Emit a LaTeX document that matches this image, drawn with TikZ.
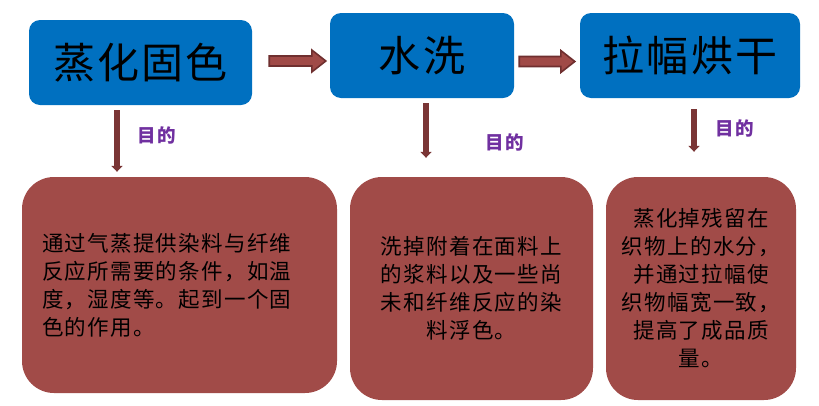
\documentclass[tikz,border=0pt]{standalone}
\usepackage{fontspec}
\newfontfamily\cjk{Noto Sans CJK SC}[LetterSpace=6]
\newfontfamily\cjkbig{Noto Sans CJK SC}[LetterSpace=5]
\usetikzlibrary{calc,arrows.meta}
\definecolor{boxblue}{HTML}{0070C0}
\definecolor{boxred}{HTML}{A14B48}
\definecolor{arrfill}{HTML}{A04A47}
\definecolor{arrline}{HTML}{6F2F2F}
\definecolor{downarr}{HTML}{7A3535}
\definecolor{lblpurple}{HTML}{7030A0}
\tikzset{
  x=1pt,y=1pt,
  titlebox/.style={fill=boxblue, draw=none, rounded corners=11pt, minimum height=85pt, inner sep=0pt,
    font=\cjkbig\fontsize{42}{46}\selectfont, text=black},
  bodybox/.style={fill=boxred, draw=none, rounded corners=32pt, inner sep=0pt,
    font=\cjk\fontsize{21.5}{28}\selectfont, text=black},
  blockarr/.style={fill=arrfill, draw=arrline, line width=1.6pt, line join=miter},
  downarrow/.style={draw=downarr, line width=6pt, -{Triangle[width=11pt,length=6pt]}},
  purposelbl/.style={font=\cjk\bfseries\fontsize{18.5}{20}\selectfont, text=lblpurple, inner sep=0pt}
}
\newcommand\blockarrowdraw[2]{%
  \draw[blockarr] let \p1=(#1), \p2=(#2) in
    (\x1,\y1+5) -- (\x2-14,\y1+5) -- (\x2-14,\y1+11) -- (\x2,\y1) --
    (\x2-14,\y1-11) -- (\x2-14,\y1-5) -- (\x1,\y1-5) -- cycle;}
\begin{document}
\begin{tikzpicture}
\useasboundingbox (0,0) rectangle (819,-405);
% title boxes
\node[titlebox, minimum width=223pt] (b1) at (140.5,-62.5) {蒸化固色};
\node[titlebox, minimum width=184pt] (b2) at (422,-55.5) {水洗};
\node[titlebox, minimum width=220pt] (b3) at (690,-55.5) {拉幅烘干};
% body boxes
\node[bodybox, minimum width=315pt, minimum height=216pt, align=left, text width=275pt, inner xsep=20pt] (r1) at (179.5,-285)
  {通过气蒸提供染料与纤维\\反应所需要的条件，如温\\度，湿度等。起到一个固\\色的作用。};
\node[bodybox, minimum width=243pt, minimum height=223pt, align=center, text width=223pt, inner xsep=10pt] (r2) at (471.5,-288.5)
  {洗掉附着在面料上\\的浆料以及一些尚\\未和纤维反应的染\\料浮色。};
\node[bodybox, minimum width=190pt, minimum height=223pt, align=center, text width=176pt, inner xsep=7pt] (r3) at (701,-288.5)
  {蒸化掉残留在\\织物上的水分，\\并通过拉幅使\\织物幅宽一致，\\提高了成品质\\量。};
% block arrows
\coordinate (a1s) at ($(b1.east)+(17,1.5)$);
\coordinate (a1e) at ($(b2.west |- a1s)+(-4,0)$);
\coordinate (a2s) at ($(b2.east)+(5,-6)$);
\coordinate (a2e) at ($(b3.west |- a2s)+(-5,0)$);
\blockarrowdraw{a1s}{a1e}
\blockarrowdraw{a2s}{a2e}
% down arrows
\draw[downarrow] ($(b1.south)+(-23.5,-5)$) -- ($(r1.north)+(-62.5,5)$);
\draw[downarrow] ($(b2.south)+(4,-5)$) -- ($(r2.north)+(-45.5,19)$);
\draw[downarrow] ($(b3.south)+(4,-11)$) -- ($(r3.north)+(-7,25)$);
% labels
\node[purposelbl] (l1) at (156.5,-135) {目的};
\node[purposelbl] (l2) at (504.5,-142) {目的};
\node[purposelbl] (l3) at (734.5,-128) {目的};
\end{tikzpicture}
\end{document}
